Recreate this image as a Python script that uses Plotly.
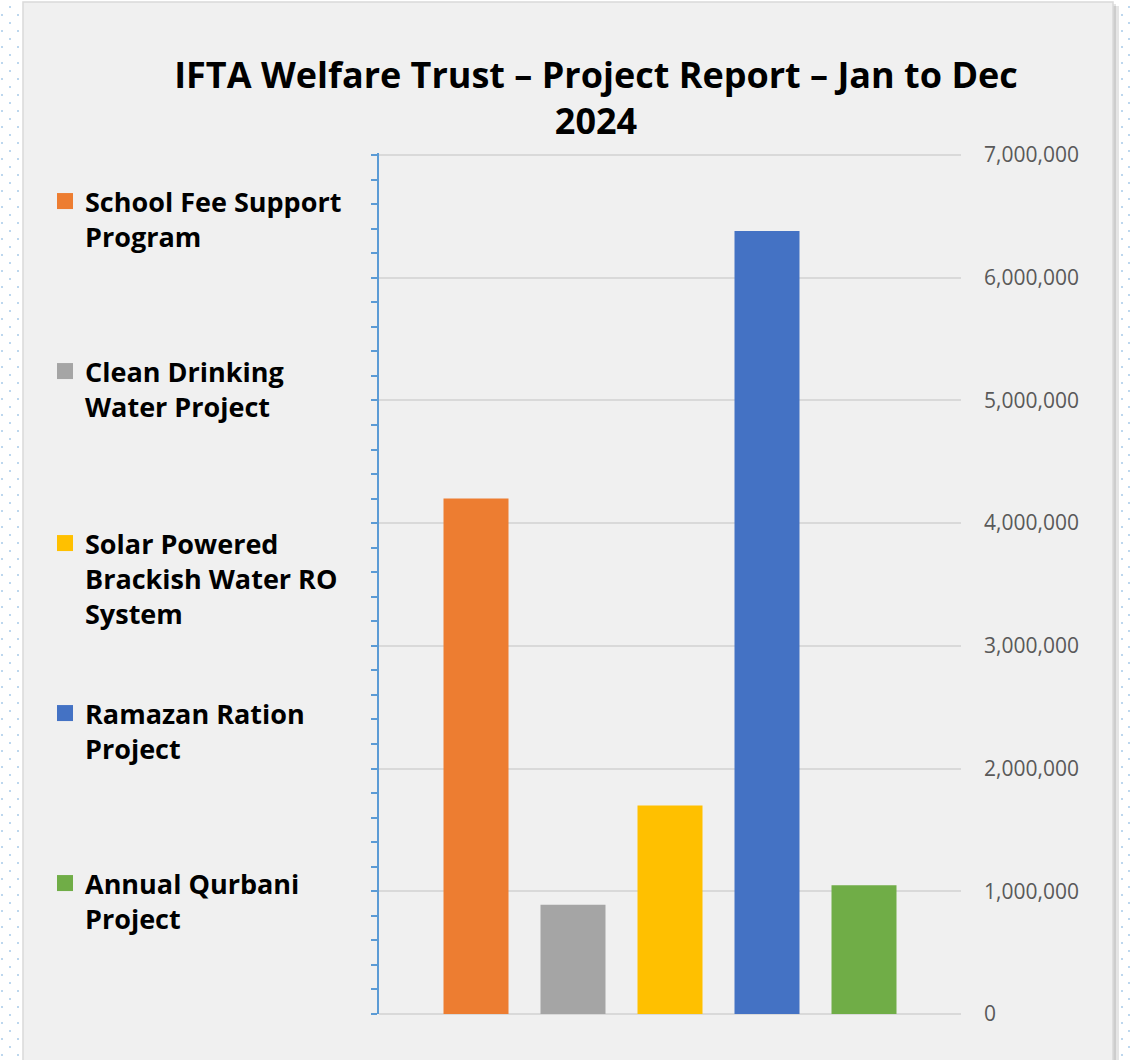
import plotly.graph_objects as go

# ---------------- data ----------------
categories = [
    "School Fee Support Program",
    "Clean Drinking Water Project",
    "Solar Powered Brackish Water RO System",
    "Ramazan Ration Project",
    "Annual Qurbani Project",
]
legend_labels = [
    "School Fee Support<br>Program",
    "Clean Drinking<br>Water Project",
    "Solar Powered<br>Brackish Water RO<br>System",
    "Ramazan Ration<br>Project",
    "Annual Qurbani<br>Project",
]
amounts = [4200000, 890000, 1700000, 6380000, 1050000]
colors = ["#ED7D31", "#A5A5A5", "#FFC000", "#4472C4", "#70AD47"]
y_tick_values = [0, 1000000, 2000000, 3000000, 4000000, 5000000, 6000000, 7000000]
y_tick_labels = ["0", "1,000,000", "2,000,000", "3,000,000", "4,000,000",
                 "5,000,000", "6,000,000", "7,000,000"]
title_text = "IFTA Welfare Trust – Project Report – Jan to Dec<br>2024"

# ---------------- layout geometry (pixels) ----------------
W, H = 1130, 1060
Y_MAX_PX = 155                    # pixel row of the 7,000,000 line
L, R, T, B = 379, 961, 153, 1014  # plot area (2px headroom so top gridline shows)
Y_TOP = 7000000 * (B - T) / (B - Y_MAX_PX)


def px2x(px):
    return (px - L) / (R - L)


def py2y(py):
    return (B - py) / (B - T)


fig = go.Figure()

# bars
fig.add_trace(go.Bar(
    x=categories, y=amounts, marker=dict(color=colors, line=dict(width=0)),
    width=0.67, showlegend=False, hoverinfo="x+y",
))

# legend entries (one legend per item so they can be spaced like the original)
legend_first_line_y = [203, 373, 545, 715, 885]
legend_names = ["legend", "legend2", "legend3", "legend4", "legend5"]
for lab, col, lname in zip(legend_labels, colors, legend_names):
    fig.add_trace(go.Scatter(
        x=[None], y=[None], mode="markers", name=lab, legend=lname,
        marker=dict(symbol="square", size=16, color=col, line=dict(width=0)),
        yaxis="y2", hoverinfo="skip",
    ))

legend_font = dict(family="Open Sans", size=27, color="#000000", weight=700)
for lname, ly in zip(legend_names, legend_first_line_y):
    fig.update_layout({lname: dict(
        xref="container", yref="container",
        x=45 / W, y=1 - (ly - 26) / H, xanchor="left", yanchor="top",
        bgcolor="rgba(0,0,0,0)", borderwidth=0, font=legend_font,
        valign="top", itemsizing="trace", itemclick=False, itemdoubleclick=False,
    )})

# ---------------- decorative card, shadow and dot pattern ----------------
shapes = []
shapes.append(dict(type="rect", xref="paper", yref="paper", layer="below",
                   x0=px2x(1113), x1=px2x(1119), y0=py2y(1065), y1=py2y(6),
                   fillcolor="rgba(0,0,0,0.10)", line=dict(width=0)))
shapes.append(dict(type="rect", xref="paper", yref="paper", layer="below",
                   x0=px2x(1113), x1=px2x(1116), y0=py2y(1065), y1=py2y(4),
                   fillcolor="rgba(0,0,0,0.10)", line=dict(width=0)))
shapes.append(dict(type="rect", xref="paper", yref="paper", layer="below",
                   x0=px2x(23), x1=px2x(1113), y0=py2y(1070), y1=py2y(2),
                   fillcolor="#F0F0F0", line=dict(color="#D9D9D9", width=1.5)))

parts = []


def dot(cx, cy):
    x0, x1 = px2x(cx - 1), px2x(cx + 1)
    y0, y1 = py2y(cy - 1), py2y(cy + 1)
    parts.append(f"M{x0:.5f},{y0:.5f}L{x1:.5f},{y0:.5f}L{x1:.5f},{y1:.5f}L{x0:.5f},{y1:.5f}Z")


for cx, off in [(2, 15), (10, 7), (18, 15), (1122, 15), (1129, 7)]:
    cy = off
    while cy < H:
        dot(cx, cy)
        cy += 16
shapes.append(dict(type="path", xref="paper", yref="paper", layer="below",
                   path="".join(parts), fillcolor="#BDD7EE", line=dict(width=0)))

fig.update_layout(
    width=W, height=H,
    template="none",
    paper_bgcolor="#FFFFFF",
    plot_bgcolor="rgba(0,0,0,0)",
    margin=dict(l=L, r=W - R, t=T, b=H - B, autoexpand=False, pad=0),
    shapes=shapes,
    title=dict(
        text=title_text, xref="container", yref="container",
        x=596 / W, xanchor="center", y=1 - 87.5 / H, yanchor="middle",
        font=dict(family="Open Sans", size=36, color="#000000", weight=700),
    ),
    xaxis=dict(
        type="category", categoryorder="array", categoryarray=categories,
        range=[-1, 5], showticklabels=False, showgrid=False,
        zeroline=False, showline=False, ticks="", automargin=False, fixedrange=True,
    ),
    yaxis=dict(
        side="right", range=[0, Y_TOP], tickvals=y_tick_values, ticktext=y_tick_labels,
        showgrid=True, gridcolor="#D9D9D9", gridwidth=1.5,
        zeroline=True, zerolinecolor="#D9D9D9", zerolinewidth=1.5,
        showline=False, ticks="", ticklabelstandoff=22,
        tickfont=dict(family="Open Sans", size=21, color="#595959"),
        automargin=False, fixedrange=True,
    ),
    yaxis2=dict(
        overlaying="y", side="left", anchor="x", range=[0, Y_TOP],
        dtick=200000, tick0=0, showticklabels=False, showgrid=False, zeroline=False,
        showline=True, linecolor="#5B9BD5", linewidth=2,
        ticks="outside", ticklen=6, tickwidth=2, tickcolor="#5B9BD5",
        automargin=False, fixedrange=True,
    ),
    bargap=0.33,
    hovermode="closest",
)

fig.write_html("out.html", config={"displayModeBar": False},
               post_script="document.body.style.margin='0';")
